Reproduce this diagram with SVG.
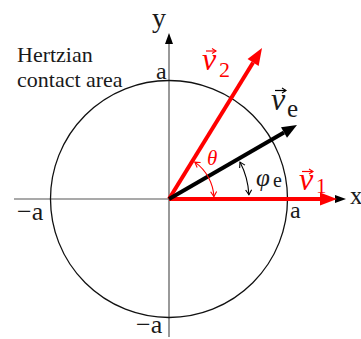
<svg xmlns="http://www.w3.org/2000/svg" width="361" height="339" viewBox="0 0 361 339">
<style>
.t{font-family:"Liberation Serif","Times New Roman",serif;fill:#1a1a1a}
.r{fill:#ff0000}
.it{font-style:italic}
.ax{stroke:#555;stroke-width:1.2;fill:none}
</style>
<defs>
<marker id="ah" markerUnits="userSpaceOnUse" markerWidth="12" markerHeight="10" refX="0" refY="4" orient="auto" overflow="visible"><path d="M0,0 L11,4 L0,8 z" fill="#000"/></marker>
<marker id="rh" markerUnits="userSpaceOnUse" markerWidth="18" markerHeight="14" refX="0" refY="6.5" orient="auto" overflow="visible"><path d="M0,0 L17,6.5 L0,13 z" fill="#ff0000"/></marker>
<marker id="bh" markerUnits="userSpaceOnUse" markerWidth="16" markerHeight="13" refX="0" refY="6" orient="auto" overflow="visible"><path d="M0,0 L15,6 L0,12 z" fill="#000"/></marker>
<marker id="rc" markerUnits="userSpaceOnUse" markerWidth="8" markerHeight="8" refX="0" refY="0" orient="auto-start-reverse" overflow="visible"><path d="M-5,-3 L0,0 L-5,3" fill="none" stroke="#ff0000" stroke-width="1.1"/></marker>
<marker id="kc" markerUnits="userSpaceOnUse" markerWidth="8" markerHeight="8" refX="0" refY="0" orient="auto-start-reverse" overflow="visible"><path d="M-5,-3 L0,0 L-5,3" fill="none" stroke="#000" stroke-width="1.1"/></marker>
<marker id="oa" markerUnits="userSpaceOnUse" markerWidth="6" markerHeight="6" refX="0" refY="0" orient="auto" overflow="visible"><path d="M-4,-2.5 L0,0 L-4,2.5" fill="none" stroke-width="1.1" stroke="context-stroke"/></marker>
</defs>
<g id="axes">
<line class="ax" x1="14" y1="199" x2="335" y2="199" marker-end="url(#ah)"/>
<line class="ax" x1="169" y1="337" x2="169" y2="44" marker-end="url(#ah)"/>
</g>
<g id="contact-area">
<circle cx="169" cy="199" r="118.5" fill="none" stroke="#111" stroke-width="1.3"/>
</g>
<g id="connectors">
<line x1="169" y1="199" x2="320" y2="199" stroke="#ff0000" stroke-width="4" marker-end="url(#rh)"/>
<line x1="169" y1="199" x2="253.1" y2="62.5" stroke="#ff0000" stroke-width="4" marker-end="url(#rh)"/>
<line x1="169" y1="199" x2="284" y2="132.5" stroke="#000" stroke-width="4" marker-end="url(#bh)"/>
<path d="M213.9,196.6 A45,45 0 0 0 194.8,162.1" fill="none" stroke="#ff0000" stroke-width="1.1" marker-start="url(#rc)" marker-end="url(#rc)"/>
<path d="M248.9,194.8 A80,80 0 0 0 240,162.1" fill="none" stroke="#000" stroke-width="1.1" marker-start="url(#kc)" marker-end="url(#kc)"/>
</g>
<g id="labels">
<text class="t" x="17" y="62" font-size="22">Hertzian</text>
<text class="t" x="17" y="87" font-size="22">contact area</text>
<text class="t" x="152" y="27" font-size="28">y</text>
<text class="t" x="350" y="204" font-size="25">x</text>
<text class="t" x="156" y="79" font-size="24">a</text>
<text class="t" x="290" y="218" font-size="24">a</text>
<text class="t" x="17" y="220" font-size="26">−a</text>
<text class="t" x="136" y="333" font-size="26">−a</text>
</g>
<g id="v2-label">
<text class="t r it" x="202" y="70" font-size="32">v</text>
<text class="t r" x="219" y="77" font-size="22">2</text>
<line x1="206" y1="51" x2="216" y2="51" stroke="#ff0000" stroke-width="1.2" marker-end="url(#oa)"/>
</g>
<g id="ve-label">
<text class="t it" x="271" y="110" font-size="32">v</text>
<text class="t" x="287" y="117" font-size="25">e</text>
<line x1="275" y1="90.5" x2="286" y2="90.5" stroke="#000" stroke-width="1.2" marker-end="url(#oa)"/>
</g>
<g id="v1-label">
<text class="t r it" x="299" y="190" font-size="32">v</text>
<text class="t r" x="316" y="193" font-size="21">1</text>
<line x1="302" y1="171.5" x2="313" y2="171.5" stroke="#ff0000" stroke-width="1.2" marker-end="url(#oa)"/>
</g>
<g id="theta-label">
<text class="t r it" x="207" y="165" font-size="21">θ</text>
</g>
<g id="phi-label">
<text class="t it" x="256" y="186" font-size="25">φ</text>
<text class="t" x="273" y="187" font-size="20">e</text>
</g>
</svg>
